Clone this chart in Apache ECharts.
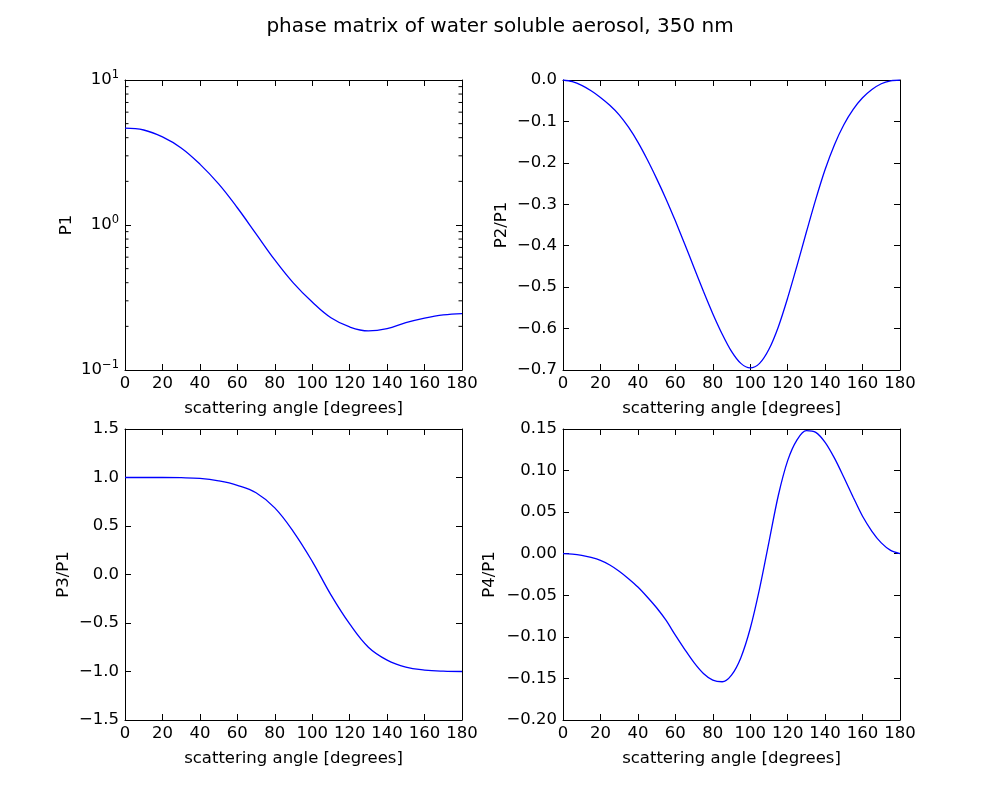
<!DOCTYPE html>
<html style="height: 100%">
<head>
    <meta charset="utf-8">
</head>
<body style="width:1000px;height:800px; margin: 0; background: #fff">
    <div id="container" style="width:1000px;height:800px;"></div>
    <script type="text/javascript" src="https://cdn.jsdelivr.net/npm/echarts@6/dist/echarts.min.js"></script>
<script type="text/javascript">
// scattering angles (degrees)
var angles10 = [0, 10, 20, 30, 40, 50, 60, 70, 80, 90, 100, 110, 120, 130, 140, 150, 160, 170, 180];
var angles5 = [0, 5, 10, 15, 20, 25, 30, 35, 40, 45, 50, 55, 60, 65, 70, 75, 80, 85, 90,
               95, 100, 105, 110, 115, 120, 125, 130, 135, 140, 145, 150, 155, 160, 165, 170, 175, 180];

// phase matrix elements
var p1 = [4.65, 4.52, 4.05, 3.4, 2.63, 1.92, 1.315, 0.869, 0.574, 0.397, 0.294, 0.229, 0.198,
          0.186, 0.193, 0.212, 0.228, 0.24, 0.245];
var p2 = [0, -0.004, -0.013, -0.026, -0.042, -0.061, -0.084, -0.114, -0.15, -0.192, -0.238,
          -0.287, -0.34, -0.396, -0.453, -0.51, -0.564, -0.613, -0.655, -0.684, -0.695,
          -0.684, -0.65, -0.596, -0.526, -0.448, -0.367, -0.288, -0.216, -0.156, -0.108,
          -0.071, -0.043, -0.023, -0.009, -0.002, 0];
var p3 = [1.0, 1.0, 1.0, 0.998, 0.99, 0.965, 0.92, 0.843, 0.687, 0.44, 0.136, -0.21, -0.51,
          -0.75, -0.883, -0.955, -0.985, -0.997, -1.0];
var p4 = [0, -0.0005, -0.002, -0.0045, -0.008, -0.0135, -0.021, -0.03, -0.04, -0.052, -0.065,
          -0.08, -0.098, -0.115, -0.131, -0.144, -0.152, -0.154, -0.146, -0.125, -0.09, -0.042,
          0.014, 0.07, 0.112, 0.137, 0.148, 0.146, 0.134, 0.115, 0.092, 0.068, 0.045, 0.027,
          0.013, 0.004, 0];

var xTicks = {min: 0, max: 180, interval: 20};
var logMinor = [0.2, 0.3, 0.4, 0.5, 0.6, 0.7, 0.8, 0.9, 2, 3, 4, 5, 6, 7, 8, 9];

var FONT = 'DejaVu Sans';
var FS = 16.5;

function pair(xs, ys) {
    var out = [];
    for (var i = 0; i < xs.length; i++) out.push([xs[i], ys[i]]);
    return out;
}
function fmt(d) {
    return function (v) { return v.toFixed(d).replace('-', '\u2212'); };
}

var grids = [
    {left: 125, top: 80, width: 337, height: 290},
    {left: 563, top: 80, width: 337, height: 290},
    {left: 125, top: 429, width: 337, height: 291},
    {left: 563, top: 429, width: 337, height: 291}
];

var lineAx = {show: true, onZero: false, lineStyle: {color: '#000', width: 1}};
var tickAx = {show: true, inside: true, length: 6, lineStyle: {color: '#000', width: 1}};
var lbl = {color: '#000', fontSize: FS, fontFamily: FONT};

var xAxes = [], yAxes = [];
for (var g = 0; g < 4; g++) {
    xAxes.push({
        type: 'value', gridIndex: g, position: 'bottom',
        min: xTicks.min, max: xTicks.max, interval: xTicks.interval,
        name: 'scattering angle [degrees]', nameLocation: 'middle', nameGap: 30,
        nameTextStyle: lbl,
        axisLine: lineAx, axisTick: tickAx, splitLine: {show: false},
        axisLabel: Object.assign({margin: 5}, lbl)
    });
    xAxes.push({
        type: 'value', gridIndex: g, position: 'top',
        min: xTicks.min, max: xTicks.max, interval: xTicks.interval,
        axisLine: lineAx, axisTick: tickAx, splitLine: {show: false},
        axisLabel: {show: false}
    });
}

var ySpecs = [
    {name: 'P1', type: 'log', min: 0.1, max: 10, gap: 50},
    {name: 'P2/P1', type: 'value', min: -0.7, max: 0, interval: 0.1, dec: 1, gap: 53},
    {name: 'P3/P1', type: 'value', min: -1.5, max: 1.5, interval: 0.5, dec: 1, gap: 53},
    {name: 'P4/P1', type: 'value', min: -0.2, max: 0.15, interval: 0.05, dec: 2, gap: 65}
];

ySpecs.forEach(function (s, g) {
    var left = {
        type: s.type, gridIndex: g, position: 'left',
        min: s.min, max: s.max,
        name: s.name, nameLocation: 'middle', nameGap: s.gap, nameRotate: 90,
        nameTextStyle: lbl,
        axisLine: lineAx, axisTick: tickAx, splitLine: {show: false},
        axisLabel: Object.assign({margin: 6}, lbl)
    };
    var right = {
        type: s.type, gridIndex: g, position: 'right',
        min: s.min, max: s.max,
        axisLine: lineAx, axisTick: tickAx, splitLine: {show: false},
        axisLabel: {show: false}
    };
    if (s.type === 'log') {
        left.logBase = 10; right.logBase = 10;
        left.interval = 1; right.interval = 1;
        left.axisLabel.formatter = function (v) {
            var e = Math.round(Math.log10(v));
            return '{b|10}{e|' + (e < 0 ? '\u2212' + (-e) : e) + '}';
        };
        left.axisLabel.rich = {
            b: {fontSize: FS, fontFamily: FONT, color: '#000', lineHeight: 22},
            e: {fontSize: 11.5, fontFamily: FONT, color: '#000', lineHeight: 12, verticalAlign: 'top'}
        };
    } else {
        left.interval = s.interval; right.interval = s.interval;
        left.axisLabel.formatter = fmt(s.dec);
    }
    yAxes.push(left, right);
});

function curve(g, xs, ys, smooth) {
    return {
        type: 'line', xAxisIndex: 2 * g, yAxisIndex: 2 * g,
        data: pair(xs, ys), showSymbol: false, smooth: smooth,
        lineStyle: {color: '#0000ff', width: 1.3}, silent: true
    };
}

// minor ticks of the log axis, drawn on both sides through the axis scale
var minorTicks = {
    type: 'custom', xAxisIndex: 0, yAxisIndex: 0, silent: true, clip: false,
    data: logMinor.map(function (v) { return [0, v]; }),
    renderItem: function (params, api) {
        var v = api.value(1);
        var a = api.coord([xTicks.min, v]);
        var b = api.coord([xTicks.max, v]);
        var st = {stroke: '#000', lineWidth: 1};
        return {
            type: 'group',
            children: [
                {type: 'line', shape: {x1: a[0], y1: a[1], x2: a[0] + 3.5, y2: a[1]}, style: st},
                {type: 'line', shape: {x1: b[0], y1: b[1], x2: b[0] - 3.5, y2: b[1]}, style: st}
            ]
        };
    }
};

var dom = document.getElementById('container');
var myChart = echarts.init(dom);
var option = {
    animation: false,
    backgroundColor: '#fff',
    title: {
        text: 'phase matrix of water soluble aerosol, 350 nm',
        left: 'center', top: 12,
        textStyle: {fontSize: 20, fontWeight: 'normal', color: '#000', fontFamily: FONT}
    },
    grid: grids,
    xAxis: xAxes,
    yAxis: yAxes,
    series: [
        curve(0, angles10, p1, 0.4),
        curve(1, angles5, p2, 0.3),
        curve(2, angles10, p3, 0.4),
        curve(3, angles5, p4, 0.3),
        minorTicks
    ]
};
myChart.setOption(option, true);
</script>
</body>
</html>
